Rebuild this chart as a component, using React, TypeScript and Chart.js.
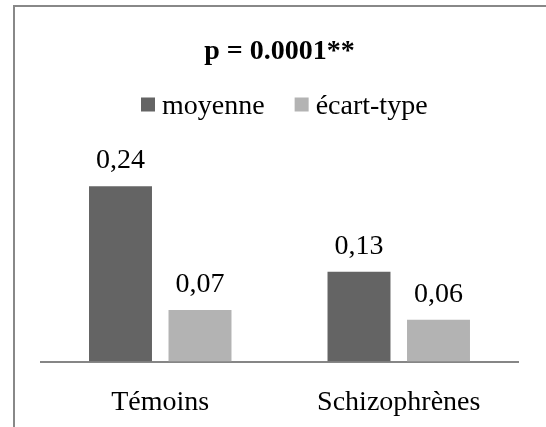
import { useEffect, useRef } from "react";
import { Chart, registerables } from "chart.js";

Chart.register(...registerables);

const categories = ["Témoins", "Schizophrènes"];
const seriesNames = ["moyenne", "écart-type"];
const moyenne = [0.2444, 0.1252];
const ecartType = [0.072, 0.0583];
const titleText = "p = 0.0001**";
const seriesColors = ["#646464", "#b3b3b3"];

const FONT = "'Liberation Serif', 'Times New Roman', serif";

const fmt = (v: number) => v.toFixed(2).replace(".", ",");

const framePlugin = {
  id: "frame",
  beforeDraw(chart: any) {
    const ctx = chart.ctx;
    ctx.save();
    ctx.fillStyle = "#ffffff";
    ctx.fillRect(0, 0, chart.width, chart.height);
    ctx.strokeStyle = "#888888";
    ctx.lineWidth = 2;
    ctx.strokeRect(14, 6, chart.width + 20, chart.height + 20);
    ctx.restore();
  },
};

const legendPlugin = {
  id: "customLegend",
  afterDraw(chart: any) {
    const ctx = chart.ctx;
    ctx.save();
    ctx.font = `28px ${FONT}`;
    ctx.textBaseline = "alphabetic";
    ctx.textAlign = "left";
    let x = 141;
    chart.data.datasets.forEach((ds: any) => {
      ctx.fillStyle = ds.backgroundColor;
      ctx.fillRect(x, 97.5, 14, 14);
      ctx.fillStyle = "#000000";
      ctx.fillText(ds.label, x + 21, 114);
      x += 21 + ctx.measureText(ds.label).width + 30;
    });
    ctx.restore();
  },
};

const dataLabelPlugin = {
  id: "dataLabels",
  afterDatasetsDraw(chart: any) {
    const ctx = chart.ctx;
    ctx.save();
    ctx.font = `28px ${FONT}`;
    ctx.fillStyle = "#000000";
    ctx.textAlign = "center";
    ctx.textBaseline = "alphabetic";
    chart.data.datasets.forEach((ds: any, i: number) => {
      const meta = chart.getDatasetMeta(i);
      meta.data.forEach((el: any, j: number) => {
        ctx.fillText(fmt(ds.data[j]), el.x, el.y - 18);
      });
    });
    ctx.restore();
  },
};

export default function App() {
  const ref = useRef<HTMLCanvasElement | null>(null);

  useEffect(() => {
    if (!ref.current) return;
    const chart = new Chart(ref.current, {
      type: "bar",
      data: {
        labels: categories,
        datasets: [
          {
            label: seriesNames[0],
            data: moyenne,
            backgroundColor: seriesColors[0],
            borderWidth: 0,
            barPercentage: 0.792,
            categoryPercentage: 0.6667,
          },
          {
            label: seriesNames[1],
            data: ecartType,
            backgroundColor: seriesColors[1],
            borderWidth: 0,
            barPercentage: 0.792,
            categoryPercentage: 0.6667,
          },
        ],
      },
      options: {
        responsive: true,
        maintainAspectRatio: false,
        animation: false,
        layout: { padding: { left: 41, right: 28, top: 0, bottom: -17.5 } },
        plugins: {
          legend: { display: false },
          tooltip: { enabled: false },
          title: {
            display: true,
            text: titleText,
            color: "#000000",
            font: { family: FONT, size: 28, weight: "bold", lineHeight: 1.2 },
            padding: { top: 34.7, bottom: 78.1 },
          },
        },
        scales: {
          x: {
            grid: { display: false, drawTicks: false },
            border: { display: true, color: "#868686", width: 2 },
            ticks: {
              color: "#000000",
              font: { family: FONT, size: 28 },
              padding: 24.7,
            },
          },
          y: { display: false, min: 0, max: 0.3 },
        },
      },
      plugins: [framePlugin, legendPlugin, dataLabelPlugin],
    });
    return () => chart.destroy();
  }, []);

  return (
    <div style={{ position: "fixed", left: 0, top: 0, width: 546, height: 427 }}>
      <canvas ref={ref} />
    </div>
  );
}
